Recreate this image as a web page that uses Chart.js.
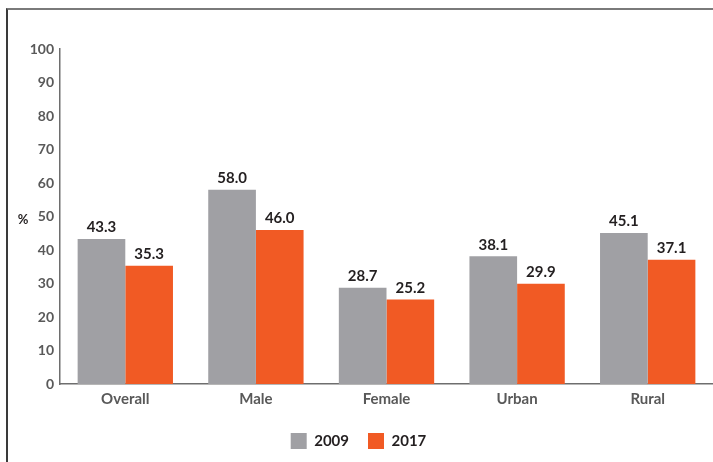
<!DOCTYPE html>
<html lang="en">
<head>
  <meta charset="UTF-8" />
  <title>2009 vs 2017 (%)</title>
  <script src="https://cdn.jsdelivr.net/npm/chart.js@4.4.1/dist/chart.umd.min.js"></script>
  <style>
    html, body {
      margin: 0;
      padding: 0;
      background: #fff;
      width: 713px;
      height: 462px;
      overflow: hidden;
    }
    .frame {
      position: absolute;
      left: 6px;
      top: 8px;
      width: 720px;
      height: 470px;
      border-top: 2px solid #7a7a7a;
      border-left: 2px solid #3a3a3a;
    }
    .wrap {
      position: absolute;
      left: 0;
      top: 0;
      width: 713px;
      height: 462px;
    }
  </style>
</head>
<body>
  <div class="frame"></div>
  <div class="wrap"><canvas id="barChart"></canvas></div>

<script>
const categories = ['Overall', 'Male', 'Female', 'Urban', 'Rural'];
const values2009 = [43.3, 58.0, 28.7, 38.1, 45.1];
const values2017 = [35.3, 46.0, 25.2, 29.9, 37.1];
const yTicks = [0, 10, 20, 30, 40, 50, 60, 70, 80, 90, 100];

const FONT = "Lato, 'Open Sans', sans-serif";

// value labels above each bar
const valueLabels = {
  id: 'valueLabels',
  afterDatasetsDraw(chart) {
    const ctx = chart.ctx;
    ctx.save();
    ctx.font = `bold 15px ${FONT}`;
    ctx.fillStyle = '#231f20';
    ctx.textAlign = 'center';
    ctx.textBaseline = 'bottom';
    chart.data.datasets.forEach((ds, i) => {
      chart.getDatasetMeta(i).data.forEach((bar, j) => {
        ctx.fillText(ds.data[j].toFixed(1), bar.x, bar.y - 4);
      });
    });
    ctx.restore();
  }
};

// horizontal "%" axis title
const pctTitle = {
  id: 'pctTitle',
  afterDraw(chart) {
    const ctx = chart.ctx;
    const y = chart.scales.y.getPixelForValue(50);
    ctx.save();
    ctx.font = `bold 13px ${FONT}`;
    ctx.fillStyle = '#231f20';
    ctx.textAlign = 'center';
    ctx.textBaseline = 'middle';
    ctx.fillText('%', 23, y + 3);
    ctx.restore();
  }
};

new Chart(document.getElementById('barChart'), {
  type: 'bar',
  data: {
    labels: categories,
    datasets: [
      { label: '2009', data: values2009, backgroundColor: '#a0a0a4' },
      { label: '2017', data: values2017, backgroundColor: '#f15a24' }
    ]
  },
  options: {
    responsive: true,
    maintainAspectRatio: false,
    animation: false,
    layout: { padding: { top: 49, right: -4, left: 0, bottom: 3 } },
    datasets: { bar: { categoryPercentage: 0.73, barPercentage: 1 } },
    plugins: {
      tooltip: { enabled: false },
      legend: {
        position: 'bottom',
        labels: {
          boxWidth: 16,
          boxHeight: 16,
          padding: 19,
          color: '#231f20',
          font: { family: FONT, size: 15, weight: 'bold' }
        }
      }
    },
    scales: {
      x: {
        grid: { display: false, drawTicks: false },
        border: { color: '#6e6e6e', width: 1.5 },
        ticks: {
          color: '#595959',
          padding: 6,
          font: { family: FONT, size: 15, weight: 'bold' }
        },
        afterFit(scale) { scale.height = 30; }
      },
      y: {
        min: 0,
        max: 100,
        afterBuildTicks(scale) { scale.ticks = yTicks.map(v => ({ value: v })); },
        grid: { display: false, drawTicks: false },
        border: { color: '#6e6e6e', width: 1.5 },
        ticks: {
          color: '#595959',
          padding: 6,
          font: { family: FONT, size: 14, weight: 'bold' }
        },
        afterFit(scale) { scale.width = 60; }
      }
    }
  },
  plugins: [valueLabels, pctTitle]
});
</script>
</body>
</html>
